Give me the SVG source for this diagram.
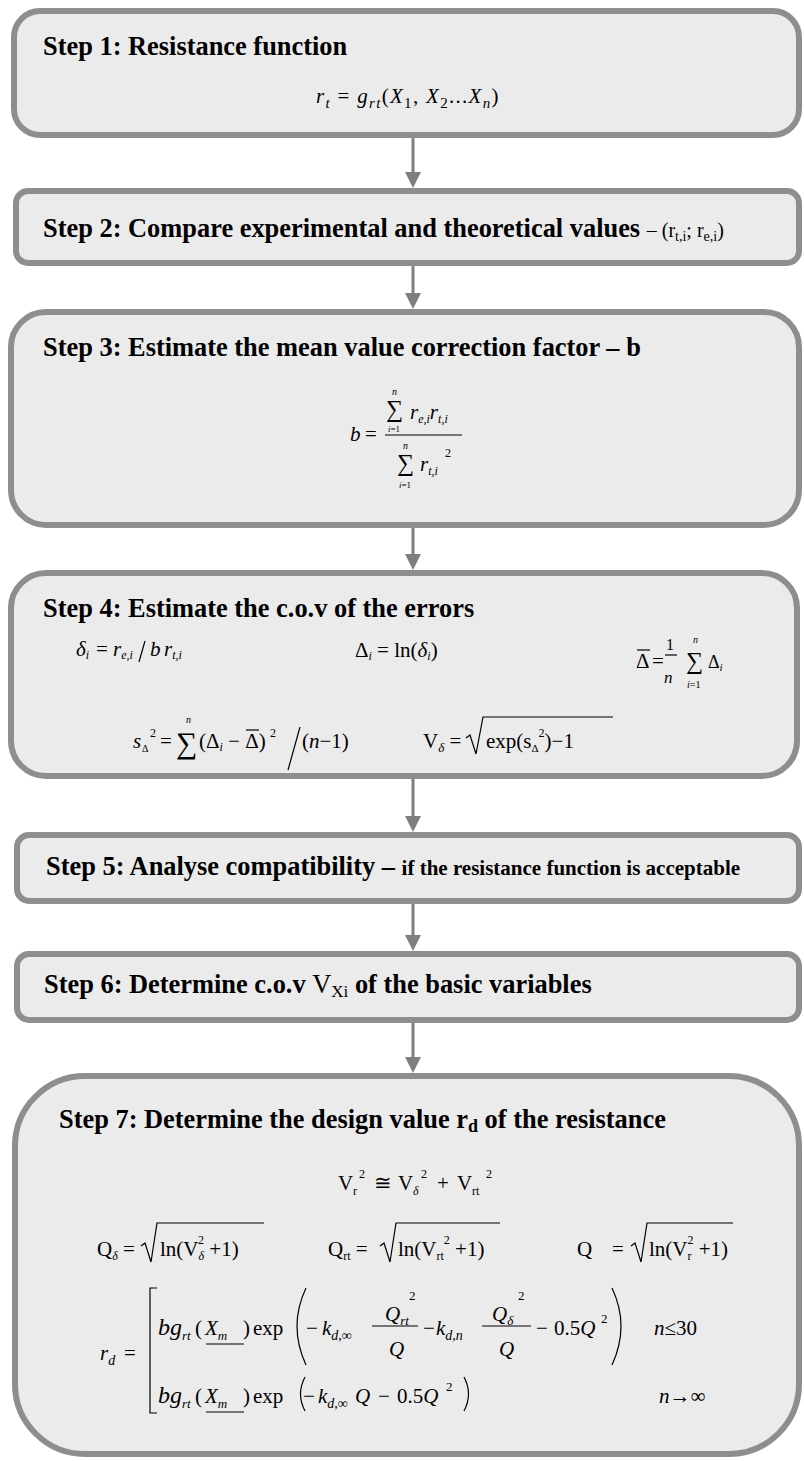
<svg xmlns="http://www.w3.org/2000/svg" width="804" height="1461" viewBox="0 0 804 1461">
<style>
.box{fill:#ebebeb;stroke:#8e8e8e;stroke-width:6}
.t{font-family:"Liberation Serif","Times New Roman",serif;font-weight:bold;font-size:26.4px;fill:#000}
.m{font-family:"Liberation Serif","Times New Roman","DejaVu Serif",serif;font-size:21px;fill:#000}
.i{font-style:italic}
.ln{stroke:#000;stroke-width:1.2;fill:none}
.conn line{stroke:#7f7f7f;stroke-width:3}
</style>
<defs>
<marker id="ah" viewBox="0 0 16 16" refX="8" refY="8" markerWidth="16" markerHeight="16" markerUnits="userSpaceOnUse" orient="auto"><path d="M0,0 L16,8 L0,16 z" fill="#7f7f7f"/></marker>
</defs>

<g id="step1">
<rect class="box" x="14" y="11" width="785" height="124" rx="26"/>
<text class="t" x="43" y="55">Step 1: Resistance function</text>
<text class="m" x="316" y="103" font-size="26" letter-spacing="1.3"><tspan class="i">r</tspan><tspan class="i" font-size="15" dy="5">t</tspan><tspan dy="-5"> = </tspan><tspan class="i">g</tspan><tspan class="i" font-size="15" dy="5">rt</tspan><tspan dy="-5">(</tspan><tspan class="i">X</tspan><tspan font-size="15" dy="5">1</tspan><tspan dy="-5">, </tspan><tspan class="i">X</tspan><tspan font-size="15" dy="5">2</tspan><tspan dy="-5">...</tspan><tspan class="i">X</tspan><tspan class="i" font-size="15" dy="5">n</tspan><tspan dy="-5">)</tspan></text>
</g>

<g id="step2">
<rect class="box" x="16" y="191" width="783" height="72" rx="12"/>
<text class="t" x="43" y="237">Step 2: Compare experimental and theoretical values <tspan font-weight="normal" font-size="20">– (r</tspan><tspan font-weight="normal" font-size="14" dy="4">t,i</tspan><tspan font-weight="normal" font-size="20" dy="-4">; r</tspan><tspan font-weight="normal" font-size="14" dy="4">e,i</tspan><tspan font-weight="normal" font-size="20" dy="-4">)</tspan></text>
</g>

<g id="step3">
<rect class="box" x="11" y="312" width="788" height="213" rx="35"/>
<text class="t" x="43" y="356">Step 3: Estimate the mean value correction factor – b</text>
<g class="m">
<text x="350" y="441" class="i">b</text>
<text x="365" y="441">=</text>
<line class="ln" x1="385" y1="435" x2="462" y2="435"/>
<text x="386" y="417" font-size="24">∑</text>
<text x="392" y="395" class="i" font-size="10">n</text>
<text x="388" y="432" font-size="9"><tspan class="i">i</tspan>=1</text>
<text x="410" y="419" class="i">r<tspan font-size="12" dy="4">e,i</tspan><tspan dy="-4">r</tspan><tspan font-size="12" dy="4">t,i</tspan></text>
<text x="397" y="471" font-size="24">∑</text>
<text x="403" y="449" class="i" font-size="10">n</text>
<text x="399" y="488" font-size="9"><tspan class="i">i</tspan>=1</text>
<text x="420" y="471" class="i">r<tspan font-size="12" dy="4">t,i</tspan></text>
<text x="445" y="457" font-size="12">2</text>
</g>
</g>

<g id="step4">
<rect class="box" x="11" y="573" width="786" height="203" rx="35"/>
<text class="t" x="43" y="617">Step 4: Estimate the c.o.v of the errors</text>
<g class="m" font-size="20">
<text x="76" y="656" class="i">δ<tspan font-size="12" dy="3">i</tspan></text>
<text x="96" y="656">=</text>
<text x="113" y="656" class="i">r<tspan font-size="12" dy="3">e,i</tspan></text>
<line class="ln" stroke-width="2.6" x1="139" y1="662" x2="145" y2="641"/>
<text x="150" y="656" class="i">b</text>
<text x="164" y="656" class="i">r<tspan font-size="12" dy="3">t,i</tspan></text>

<text x="355" y="657" font-size="21">Δ<tspan class="i" font-size="12" dy="3">i</tspan><tspan dy="-3"> = ln(</tspan><tspan class="i">δ</tspan><tspan class="i" font-size="12" dy="3">i</tspan><tspan dy="-3">)</tspan></text>

<text x="636" y="668">Δ</text>
<line class="ln" x1="637" y1="650" x2="650" y2="650"/>
<text x="652" y="668">=</text>
<text x="666" y="650" font-size="16">1</text>
<line class="ln" stroke-width="1.5" x1="665" y1="655" x2="677" y2="655"/>
<text x="664" y="683" class="i" font-size="17">n</text>
<text x="686" y="669" font-size="24">∑</text>
<text x="693" y="643" class="i" font-size="10">n</text>
<text x="687" y="688" font-size="10"><tspan class="i">i</tspan>=1</text>
<text x="708" y="668" font-size="18">Δ<tspan class="i" font-size="11" dy="3">i</tspan></text>

<text x="133" y="748" class="i">s</text>
<text x="142" y="752" font-size="10">Δ</text>
<text x="150" y="737" font-size="12">2</text>
<text x="160" y="748">=</text>
<text x="176" y="753" font-size="30">∑</text>
<text x="186" y="723" class="i" font-size="10">n</text>
<text x="199" y="748">(Δ<tspan class="i" font-size="12" dy="3">i</tspan><tspan dy="-3"> − Δ)</tspan></text>
<line class="ln" x1="246" y1="730" x2="259" y2="730"/>
<text x="270" y="737" font-size="12">2</text>
<line class="ln" stroke-width="2.6" x1="288" y1="770" x2="300" y2="727"/>
<text x="302" y="748">(<tspan class="i">n</tspan>−1)</text>

<text x="423" y="748">V<tspan class="i" font-size="13" dy="4">δ</tspan><tspan dy="-4"> =</tspan></text>
<path class="ln" stroke-width="1.5" d="M466,738 L470,735 L476,754 L483,717 L613,717"/>
<text x="486" y="748">exp(s<tspan font-size="11" dy="4">Δ</tspan><tspan font-size="12" dy="-15">2</tspan><tspan dy="11">)−1</tspan></text>
</g>
</g>

<g id="step5">
<rect class="box" x="17" y="835" width="782" height="66" rx="12"/>
<text class="t" x="46" y="875">Step 5: Analyse compatibility – <tspan font-size="21">if the resistance function is acceptable</tspan></text>
</g>

<g id="step6">
<rect class="box" x="17" y="954" width="782" height="66" rx="12"/>
<text class="t" x="44" y="993">Step 6: Determine c.o.v <tspan font-weight="normal">V</tspan><tspan font-weight="normal" font-size="17" dy="4">Xi</tspan><tspan dy="-4"> of the basic variables</tspan></text>
</g>

<g id="step7">
<rect class="box" x="15" y="1076" width="784" height="378" rx="70"/>
<text class="t" x="59" y="1128">Step 7: Determine the design value r<tspan font-size="18" dy="4">d</tspan><tspan dy="-4"> of the resistance</tspan></text>
<g class="m">
<text x="338" y="1190">V</text>
<text x="353" y="1195" font-size="12">r</text>
<text x="359" y="1178" font-size="12">2</text>
<text x="374" y="1190">≅</text>
<text x="398" y="1190">V</text>
<text x="413" y="1195" class="i" font-size="12">δ</text>
<text x="421" y="1178" font-size="12">2</text>
<text x="437" y="1190">+</text>
<text x="457" y="1190">V</text>
<text x="472" y="1195" font-size="12">rt</text>
<text x="486" y="1178" font-size="12">2</text>

<text x="97" y="1256">Q<tspan class="i" font-size="12" dy="4">δ</tspan><tspan dy="-4"> =</tspan></text>
<path class="ln" stroke-width="1.5" d="M141,1246 L145,1243 L151,1262 L157,1223 L264,1223"/>
<text x="160" y="1256">ln(V<tspan class="i" font-size="12" dy="4">δ</tspan><tspan font-size="12" dy="-16" dx="-6">2</tspan><tspan dy="12"> +1)</tspan></text>

<text x="328" y="1256">Q<tspan font-size="12" dy="4">rt</tspan><tspan dy="-4"> =</tspan></text>
<path class="ln" stroke-width="1.5" d="M380,1246 L384,1243 L390,1262 L396,1223 L500,1223"/>
<text x="398" y="1256">ln(V<tspan font-size="12" dy="4">rt</tspan><tspan font-size="12" dy="-16">2</tspan><tspan dy="12"> +1)</tspan></text>

<text x="577" y="1256">Q<tspan x="612">=</tspan></text>
<path class="ln" stroke-width="1.5" d="M631,1246 L635,1243 L641,1262 L647,1223 L733,1223"/>
<text x="649" y="1256">ln(V<tspan font-size="12" dy="4">r</tspan><tspan font-size="12" dy="-16" dx="-4">2</tspan><tspan dy="12"> +1)</tspan></text>
</g>

<g class="m" font-size="23">
<text x="100" y="1360" class="i">r<tspan font-size="14" dy="5">d</tspan></text>
<text x="124" y="1360">=</text>
<path class="ln" d="M157,1288 H150 V1413 H157"/>

<text x="158" y="1335" class="i" font-size="24">bg<tspan font-size="13" dy="5">rt</tspan></text>
<text x="195" y="1335">(</text>
<text x="205" y="1335" class="i">X<tspan font-size="13" dy="5">m</tspan></text>
<line class="ln" stroke-width="1.6" x1="206" y1="1344" x2="244" y2="1344"/>
<text x="243" y="1335">)</text>
<text x="253" y="1335">exp</text>
<path class="ln" d="M306,1288 Q288,1326 306,1365"/>
<text x="306" y="1335">−</text>
<text x="322" y="1335" class="i">k<tspan font-size="14" dy="5">d,∞</tspan></text>
<line class="ln" x1="372" y1="1326" x2="418" y2="1326"/>
<text x="385" y="1321" class="i">Q<tspan font-size="13" dy="4">rt</tspan></text>
<text x="409" y="1300" font-size="13">2</text>
<text x="389" y="1356" class="i">Q</text>
<text x="423" y="1335">−</text>
<text x="436" y="1335" class="i">k<tspan font-size="14" dy="5">d,n</tspan></text>
<line class="ln" x1="482" y1="1326" x2="531" y2="1326"/>
<text x="492" y="1321" class="i">Q<tspan font-size="13" dy="4">δ</tspan></text>
<text x="518" y="1300" font-size="13">2</text>
<text x="499" y="1356" class="i">Q</text>
<text x="536" y="1335">−</text>
<text x="554" y="1335">0.5<tspan class="i">Q</tspan></text>
<text x="601" y="1323" font-size="13">2</text>
<path class="ln" d="M612,1288 Q630,1326 612,1365"/>
<text x="654" y="1335"><tspan class="i">n</tspan>≤30</text>

<text x="158" y="1403" class="i" font-size="24">bg<tspan font-size="13" dy="5">rt</tspan></text>
<text x="195" y="1403">(</text>
<text x="205" y="1403" class="i">X<tspan font-size="13" dy="5">m</tspan></text>
<line class="ln" stroke-width="1.6" x1="206" y1="1412" x2="244" y2="1412"/>
<text x="243" y="1403">)</text>
<text x="253" y="1403">exp</text>
<path class="ln" d="M305,1377 Q296,1394 305,1411"/>
<text x="303" y="1403">−</text>
<text x="318" y="1403" class="i">k<tspan font-size="14" dy="5">d,∞</tspan></text>
<text x="355" y="1403" class="i">Q</text>
<text x="378" y="1403">−</text>
<text x="397" y="1403">0.5<tspan class="i">Q</tspan></text>
<text x="446" y="1391" font-size="13">2</text>
<path class="ln" d="M464,1377 Q473,1394 464,1411"/>
<text x="659" y="1403"><tspan class="i">n</tspan>→∞</text>
</g>
</g>

<g id="connectors" class="conn">
<line x1="413" y1="138" x2="413" y2="180" marker-end="url(#ah)"/>
<line x1="413" y1="266" x2="413" y2="301" marker-end="url(#ah)"/>
<line x1="413" y1="528" x2="413" y2="562" marker-end="url(#ah)"/>
<line x1="413" y1="779" x2="413" y2="824" marker-end="url(#ah)"/>
<line x1="413" y1="904" x2="413" y2="943" marker-end="url(#ah)"/>
<line x1="413" y1="1023" x2="413" y2="1065" marker-end="url(#ah)"/>
</g>
</svg>
